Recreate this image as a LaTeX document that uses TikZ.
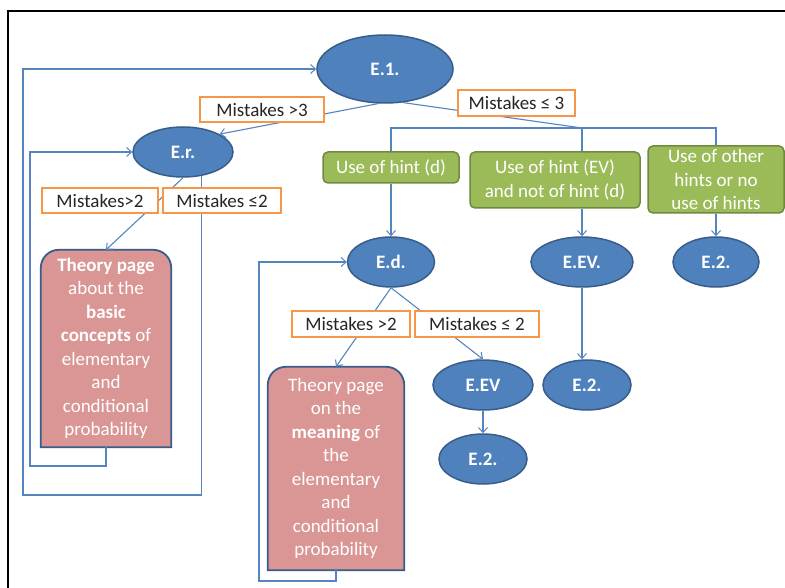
\documentclass[tikz,border=0pt]{standalone}
\usepackage{fontspec}
\setmainfont{Carlito}
\usetikzlibrary{shapes.geometric,arrows.meta,backgrounds,calc}
\definecolor{efill}{HTML}{4F81BD}
\definecolor{eline}{HTML}{385D8A}
\definecolor{conn}{HTML}{5585C0}
\definecolor{gfill}{HTML}{9BBB59}
\definecolor{gline}{HTML}{71893F}
\definecolor{pfill}{HTML}{D99694}
\definecolor{orng}{HTML}{F79646}
\tikzset{
  txt/.style={font=\fontsize{19}{23.5}\selectfont},
  ell/.style={ellipse, txt, fill=efill, draw=eline, line width=1.5pt, text=white, font=\fontsize{19}{23.5}\selectfont\bfseries, inner sep=0pt},
  lab/.style={rectangle, txt, fill=white, draw=orng, line width=1.8pt, text=black!85, inner sep=0pt},
  grn/.style={rectangle, rounded corners=5pt, txt, fill=gfill, draw=gline, line width=1.5pt, text=white, align=center, inner sep=0pt},
  theo/.style={rectangle, txt, text=white, align=center, inner sep=0pt},
  pshape/.style={fill=pfill, draw=eline, line width=1.8pt},
  cn/.style={draw=conn, line width=1.1pt},
  arr/.style={cn, -{Straight Barb[length=5pt,width=9pt,line width=1pt]}},
}
\begin{document}
\begin{tikzpicture}[x=1pt,y=-1pt]
\useasboundingbox (0,0) rectangle (785,588);
% frame
\draw[line width=2.5pt] (8,588) -- (8,11) -- (785,11);

% ellipses
\node[ell, minimum width=136, minimum height=68] (E1) at (385,69) {E.1.};
\node[ell, minimum width=100, minimum height=50] (Er) at (183,152) {E.r.};
\node[ell, minimum width=87, minimum height=50] (Ed) at (391,262) {E.d.};
\node[ell, minimum width=102, minimum height=50] (EEVm) at (582,262) {E.EV.};
\node[ell, minimum width=86, minimum height=50] (E2r) at (716,262) {E.2.};
\node[ell, minimum width=88, minimum height=50] (E2m) at (587,385) {E.2.};
\node[ell, minimum width=100, minimum height=50] (EEV) at (483,385) {E.EV};
\node[ell, minimum width=88, minimum height=50] (E2l) at (483,459) {E.2.};

% theory pages
\node[theo, minimum width=130, minimum height=197] (t1) at (106,348.5) {\textbf{Theory page}\\about the\\\textbf{basic}\\\textbf{concepts} of\\elementary\\and\\conditional\\probability};
\node[theo, minimum width=136, minimum height=203] (t2) at (336,468.5) {Theory page\\on the\\\textbf{meaning} of\\the\\elementary\\and\\conditional\\probability};
\begin{scope}[on background layer]
\fill[white] (0,0) rectangle (785,588);
\filldraw[pshape] (t1.south west) -- ($(t1.north west)+(0,18)$) arc[start angle=180,end angle=270,radius=18] -- ($(t1.north east)+(-18,0)$) arc[start angle=270,end angle=360,radius=18] -- (t1.south east) -- cycle;
\filldraw[pshape] (t2.south west) -- ($(t2.north west)+(0,18)$) arc[start angle=180,end angle=270,radius=18] -- ($(t2.north east)+(-18,0)$) arc[start angle=270,end angle=360,radius=18] -- (t2.south east) -- cycle;
\end{scope}

% green boxes
\node[grn, minimum width=136, minimum height=31] (g1) at (391,167.5) {Use of hint (d)};
\node[grn, minimum width=170, minimum height=56] (g2) at (555,180) {Use of hint (EV)\\and not of hint (d)};
\node[grn, minimum width=136, minimum height=67] (g3) at (716,179.5) {Use of other\\hints or no\\use of hints};

% coordinates
\coordinate (j) at (582,128);
\coordinate (c1) at (23,495);
\coordinate (c2) at (30,466);
\coordinate (c3) at (259,581);

% connectors
\draw[arr] (E1.259) -- (Er.26);
\draw[cn] (E1.298) -- (j);
\draw[cn] (g1.north) |- (j) -| (g3.north);
\draw[cn] (j) -- (j |- g2.north);
\draw[arr] (g1.south) -- (Ed.north);
\draw[arr] (g2.south -| EEVm.north) -- (EEVm.north);
\draw[arr] (g3.south) -- (E2r.north);
\draw[arr] (EEVm.south) -- (EEVm.south |- E2m.north);
\draw[arr] (EEV.south) -- (E2l.north);
\draw[arr] (Er.south) -- (t1.north);
\draw[arr] (Er.-52) |- (c1) |- (E1.west);
\draw[arr] (t1.south) |- (c2) |- (Er.west);
\draw[arr] (Ed.south) -- (t2.north);
\draw[arr] (Ed.south) -- (EEV.north);
\draw[arr] (t2.south) |- (c3) |- (Ed.west);

% labels
\node[lab, minimum width=124, minimum height=25] (l1) at (262,109.5) {Mistakes >3};
\node[lab, minimum width=117, minimum height=26] (l2) at (516.5,103) {Mistakes ≤ 3};
\node[lab, minimum width=116, minimum height=25] (l3) at (100,200.5) {Mistakes>2};
\node[lab, minimum width=118, minimum height=25] (l4) at (222,200.5) {Mistakes ≤2};
\node[lab, minimum width=118, minimum height=26] (l5) at (351,324) {Mistakes >2};
\node[lab, minimum width=124, minimum height=26] (l6) at (477,324) {Mistakes ≤ 2};
\end{tikzpicture}
\end{document}
